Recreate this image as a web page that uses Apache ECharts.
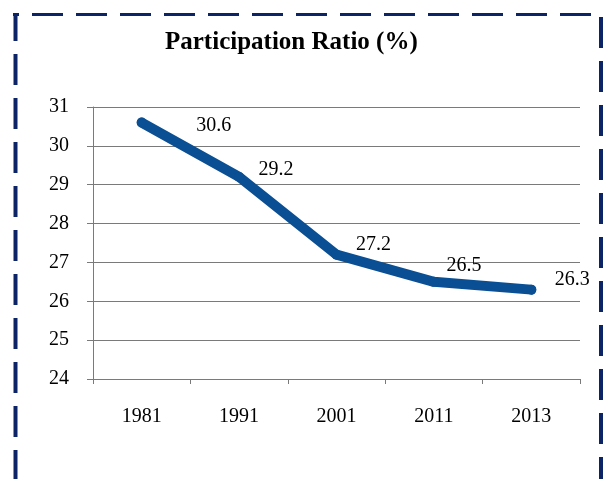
<!DOCTYPE html>
<html>
<head>
<meta charset="utf-8">
<script src="https://cdn.jsdelivr.net/npm/echarts@6/dist/echarts.min.js"></script>
<style>
html, body { margin: 0; padding: 0; background: #fff; }
#chart { width: 605px; height: 479px; }
</style>
</head>
<body>
<div id="chart"></div>
<script>
// data
const years = ['1981', '1991', '2001', '2011', '2013']
const ratio = [30.6, 29.2, 27.2, 26.5, 26.3]
// where each value label sits, relative to its point
const labelOffsets = [[72, 3], [37, -7], [37, -10], [30, -16], [41, -10]]

const serif = 'Liberation Serif'
const navy = '#0c2466'

let chart = echarts.init(document.getElementById('chart'))
chart.setOption({
  backgroundColor: '#fff',
  animation: false,
  title: {
    text: 'Participation Ratio (%)',
    left: 160,
    top: 25,
    textStyle: {
      fontFamily: serif,
      fontSize: 25,
      fontWeight: 'bold',
      color: '#000'
    }
  },
  grid: {
    left: 93,
    right: 25,
    top: 107,
    bottom: 100,
    containLabel: false
  },
  xAxis: {
    type: 'category',
    data: years,
    boundaryGap: true,
    axisLine: { lineStyle: { color: '#7a7a7a', width: 1 } },
    axisTick: { show: true, length: 5, lineStyle: { color: '#7a7a7a' } },
    axisLabel: {
      margin: 28,
      fontFamily: serif,
      fontSize: 20,
      color: '#000'
    },
    splitLine: { show: false }
  },
  yAxis: {
    type: 'value',
    min: 24,
    max: 31,
    interval: 1,
    axisLine: { show: true, lineStyle: { color: '#7a7a7a', width: 1 } },
    axisTick: { show: true, length: 6, lineStyle: { color: '#7a7a7a' } },
    axisLabel: {
      margin: 24,
      fontFamily: serif,
      fontSize: 20,
      color: '#000'
    },
    splitLine: { show: true, lineStyle: { color: '#7a7a7a', width: 1 } }
  },
  series: [
    {
      type: 'line',
      data: ratio.map((v, i) => ({
        value: v,
        label: { offset: labelOffsets[i] }
      })),
      symbol: 'circle',
      symbolSize: 10,
      itemStyle: { color: '#0a4f93' },
      lineStyle: { color: '#0a4f93', width: 10, cap: 'round', join: 'round' },
      label: {
        show: true,
        position: 'inside',
        fontFamily: serif,
        fontSize: 20,
        color: '#000',
        formatter: p => p.value.toFixed(1)
      }
    }
  ],
  graphic: [
    // dashed frame round the chart
    {
      type: 'line',
      shape: { x1: 13, y1: 14.5, x2: 600, y2: 14.5 },
      style: { stroke: navy, lineWidth: 3, lineDash: [31, 13], lineDashOffset: 25 }
    },
    {
      type: 'line',
      shape: { x1: 15.5, y1: 13, x2: 15.5, y2: 479 },
      style: { stroke: navy, lineWidth: 4, lineDash: [31, 13], lineDashOffset: 3 }
    },
    {
      type: 'line',
      shape: { x1: 601, y1: 17, x2: 601, y2: 479 },
      style: { stroke: navy, lineWidth: 4, lineDash: [31, 13] }
    }
  ]
})
</script>
</body>
</html>
